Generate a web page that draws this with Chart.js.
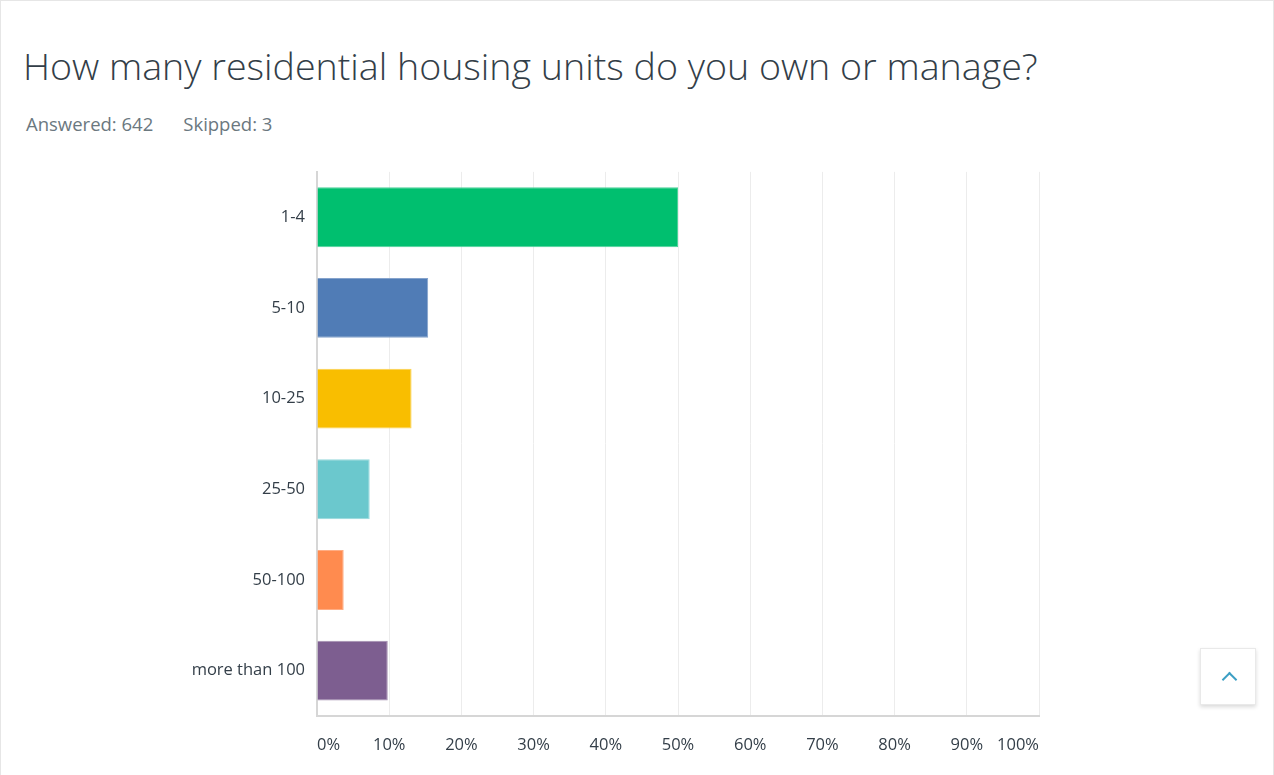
<!DOCTYPE html>
<html>
<head>
<meta charset="utf-8">
<script src="https://cdn.jsdelivr.net/npm/chart.js@4.4.1/dist/chart.umd.min.js"></script>
<style>
  html, body { margin: 0; padding: 0; }
  body { width: 1274px; height: 775px; position: relative; overflow: hidden; background: #fff; font-family: "Open Sans", sans-serif; }
  #frame { position: absolute; left: 0; top: 0; width: 1272px; height: 780px; border: 1px solid #e6e6e6; }
  #title { position: absolute; left: 23px; top: 40px; font-size: 37.6px; font-weight: 300; color: #333e48; white-space: nowrap; }
  #sub { position: absolute; left: 26px; top: 111px; font-size: 18.5px; color: #6b787f; white-space: nowrap; }
  #sub span + span { margin-left: 30px; }
  #wrap { position: absolute; left: 150px; top: 150px; width: 908px; height: 622px; }
  #btn { position: absolute; left: 1200px; top: 648px; width: 56px; height: 57px; background: #fff; border: 1px solid #e9e9e9; box-shadow: 0 2px 4px rgba(0,0,0,0.15); box-sizing: border-box; }
  #btn i { position: absolute; left: 23px; top: 25px; width: 9px; height: 9px; border-left: 2px solid #3c9fc4; border-top: 2px solid #3c9fc4; transform: rotate(45deg); }
</style>
</head>
<body>
<div id="frame"></div>
<div id="title">How many residential housing units do you own or manage?</div>
<div id="sub"><span>Answered: 642</span><span>Skipped: 3</span></div>
<div id="wrap"><canvas id="c"></canvas></div>
<div id="btn"><i></i></div>
<script>
const categories = ['1-4', '5-10', '10-25', '25-50', '50-100', 'more than 100'];
const percentages = [50.0, 15.4, 13.1, 7.3, 3.7, 9.8];
const barColors = ['#00bf6f', '#507cb6', '#f9be00', '#6bc8cd', '#ff8b4f', '#7d5e90'];
const barEdgeColors = ['#4dd29a', '#85a3cc', '#fbd14d', '#97d9dc', '#ffad84', '#a48eb1'];
const xTickValues = [0, 10, 20, 30, 40, 50, 60, 70, 80, 90, 100];

new Chart(document.getElementById('c'), {
  type: 'bar',
  data: {
    labels: categories,
    datasets: [{
      data: percentages,
      backgroundColor: barColors,
      borderColor: barEdgeColors,
      borderWidth: 1,
      barPercentage: 0.66,
      categoryPercentage: 1.0
    }]
  },
  options: {
    indexAxis: 'y',
    responsive: true,
    maintainAspectRatio: false,
    animation: false,
    layout: { padding: { top: 4, right: 0, bottom: 0, left: 0 } },
    plugins: { legend: { display: false }, tooltip: { enabled: false } },
    scales: {
      x: {
        min: 0, max: 100,
        afterBuildTicks: (s) => { s.ticks = xTickValues.map(v => ({ value: v })); },
        afterFit: (s) => { s.height = 56; },
        grid: { color: '#ececec', lineWidth: 1, drawTicks: false },
        border: { color: '#d6d6d6', width: 2 },
        ticks: {
          align: 'inner',
          padding: 19,
          maxRotation: 0,
          autoSkip: false,
          color: '#333e48',
          font: { family: 'Open Sans', size: 16.5 },
          callback: (v) => v + '%'
        }
      },
      y: {
        afterFit: (s) => { s.width = 167; },
        grid: { display: false, drawTicks: false },
        border: { color: '#d6d6d6', width: 2 },
        ticks: {
          padding: 12,
          color: '#333e48',
          font: { family: 'Open Sans', size: 16.5 }
        }
      }
    }
  }
});
</script>
</body>
</html>
